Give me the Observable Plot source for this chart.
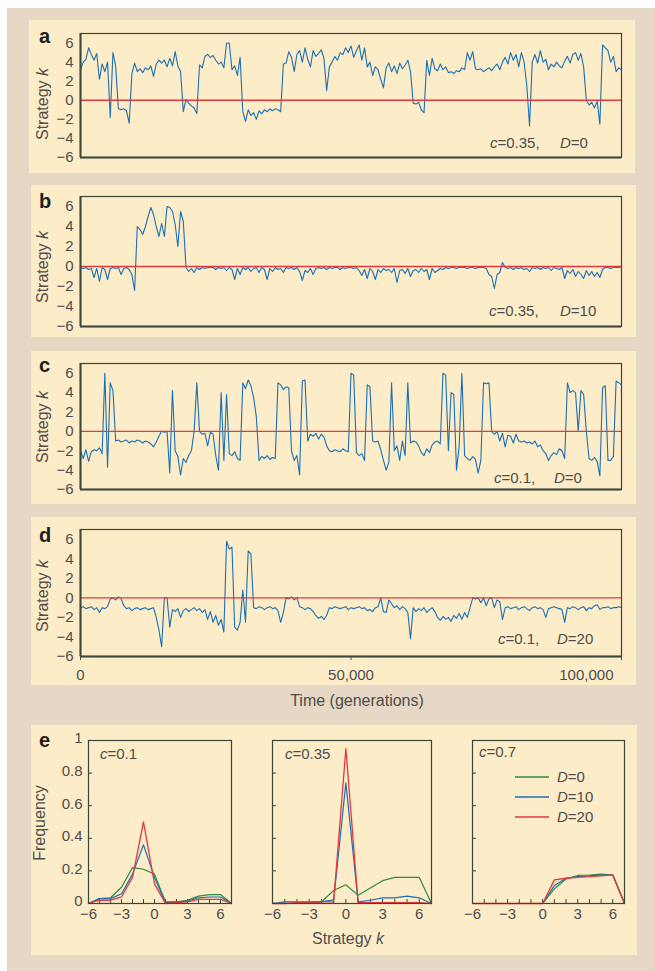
<!DOCTYPE html>
<html><head><meta charset="utf-8">
<script src="https://cdn.jsdelivr.net/npm/d3@7"></script>
<script src="https://cdn.jsdelivr.net/npm/@observablehq/plot@0.6"></script>
<style>
body{margin:0;background:#fff;}
#root{position:relative;width:655px;height:971px;overflow:hidden;font-family:"Liberation Sans",Arial,sans-serif;}
.bg{position:absolute;left:7px;top:8px;width:648px;height:963px;background:#e6d8c4;}
.panel{position:absolute;background:#fdecc8;}
#overlay{position:absolute;left:0;top:0;}
#overlay text{font-family:"Liberation Sans",Arial,sans-serif;fill:#4d4d4d;}
</style></head>
<body><div id="root"><div class="bg"></div>
<div class="panel" style="left:29px;top:20px;width:606px;height:153px"></div>
<div class="panel" style="left:31px;top:185px;width:605px;height:152px"></div>
<div class="panel" style="left:31px;top:351px;width:605px;height:153px"></div>
<div class="panel" style="left:31px;top:517px;width:605px;height:168px"></div>
<div class="panel" style="left:31px;top:725px;width:606px;height:230px"></div>
</div>
<script>
// ---------- data ----------
const T_MAX = 100000;
const kTicks = [-6, -4, -2, 0, 2, 4, 6];
const timeTicks = [0, 50000, 100000];

// strategy k sampled every 500 generations (t = 0 ... 100,000)
const seriesA = [
  3.2, 4.0, 4.3, 5.5, 4.8, 4.2, 4.9, 2.2, 3.8, 3.0,
  4.0, -1.8, 5.0, 3.6, -0.9, -1.0, -0.9, -1.1, -2.4, 2.8,
  3.9, 3.0, 3.3, 2.9, 3.4, 3.2, 3.6, 2.5, 3.8, 4.2,
  3.9, 4.2, 3.5, 4.4, 3.6, 5.1, 3.6, 3.0, -1.2, 0.1,
  -0.3, -0.6, -0.8, -1.4, 3.7, 3.4, 4.6, 4.8, 4.5, 4.7,
  4.2, 3.8, 4.0, 3.4, 6.0, 6.0, 3.2, 3.6, 2.6, 4.5,
  -1.2, -2.2, -1.0, -1.6, -1.3, -2.0, -1.1, -1.4, -1.0, -1.2,
  -0.9, -1.1, -0.9, -1.0, -1.2, 3.8, 3.9, 5.1, 4.5, 3.0,
  4.8, 5.2, 4.0, 5.5, 4.3, 3.5, 5.2, 4.6, 4.9, 5.3,
  4.4, 1.0, 3.5, 4.0, 4.6, 4.2, 5.0, 4.8, 5.5, 5.0,
  5.7, 4.5, 5.2, 5.8, 4.2, 5.5, 3.5, 4.0, 2.6, 3.5,
  3.2, 2.2, 1.3, 3.4, 3.9, 3.0, 3.6, 2.8, 3.9, 3.3,
  3.7, 4.2, 3.0, -0.3, -0.4, -0.2, -1.0, -1.3, 4.2, 2.6,
  4.4, 3.3, 3.1, 3.8, 3.2, 3.5, 2.9, 3.0, 2.8, 3.1,
  3.0, 3.4, 3.2, 5.0, 4.2, 5.1, 3.3, 3.2, 3.3, 3.0,
  3.2, 3.4, 3.1, 3.5, 3.8, 3.2, 4.0, 4.5, 3.8, 5.0,
  4.2, 4.8, 3.5, 5.0, 4.0, 1.5, -2.7, 4.0, 4.8, 3.9,
  5.2, 4.0, 4.3, 3.2, 3.8, 3.5, 4.0, 3.6, 3.4, 4.1,
  4.6, 3.9, 4.8, 5.0, 4.2, 4.9, 3.5, 0.0, -0.5, -0.2,
  -0.8, -0.1, -2.5, 5.8, 5.5, 5.2, 4.0, 4.6, 3.0, 3.4,
  3.2
];
const seriesB = [
  -0.1, -0.2, -0.1, -0.3, -0.2, -1.1, -0.2, -1.5, -0.1, -0.3,
  -1.3, -0.2, -0.1, -0.2, -0.1, -0.8, -0.2, -0.1, -0.3, -0.8,
  -2.4, 4.0, 3.7, 3.2, 4.0, 5.0, 5.9, 5.2, 4.0, 3.0,
  4.3, 3.0, 6.0, 5.9, 5.5, 4.2, 2.0, 5.5, 4.5, -0.1,
  -0.5, -0.2, -0.6, -0.1, -0.3, -0.1, -0.2, -0.1, -0.1, -0.1,
  -0.3, -0.1, -0.2, -0.1, -0.4, -0.1, -0.3, -1.3, -0.2, -0.8,
  -0.1, -0.3, -0.1, -0.5, -0.2, -0.1, -0.6, -0.1, -0.3, -1.3,
  -0.2, -0.5, -0.1, -0.3, -0.2, -0.6, -0.1, -0.2, -0.1, -0.3,
  -0.1, -0.5, -1.4, -0.4, -0.6, -0.2, -0.8, -0.2, -0.1, -0.2,
  -0.1, -0.3, -0.1, -0.2, -0.1, -0.1, -0.3, -0.1, -0.2, -0.1,
  -0.1, -0.2, -0.1, -0.4, -0.9, -0.3, -1.2, -0.2, -0.5, -1.3,
  -0.3, -0.6, -0.2, -0.4, -0.3, -0.6, -0.2, -1.6, -0.4, -0.3,
  -0.7, -0.2, -1.0, -0.4, -0.3, -0.6, -0.2, -0.5, -0.3, -1.3,
  -0.2, -0.6, -0.4, -0.2, -0.3, -0.1, -0.2, -0.1, -0.1, -0.2,
  -0.1, -0.1, -0.1, -0.2, -0.1, -0.1, -0.2, -0.1, -0.1, -0.1,
  -0.2, -0.8, -1.0, -2.2, -0.8, -0.6, 0.4, -0.1, -0.2, -0.1,
  -0.3, -0.1, -0.2, -0.1, -0.3, -0.2, -0.5, -0.1, -0.2, -0.1,
  -0.3, -0.1, -0.2, -0.1, -0.4, -0.1, -0.2, -0.3, -0.1, -1.2,
  -0.4, -0.7, -0.3, -1.0, -0.5, -0.8, -1.2, -0.4, -0.9, -0.5,
  -1.0, -0.6, -1.1, -0.3, -0.1, -0.1, -0.2, -0.1, -0.1, -0.1,
  0.0
];
const seriesC = [
  -2.0, -2.8, -1.9, -3.1, -2.1, -1.9, -2.0, -1.7, -2.3, 6.0,
  -3.7, 5.0, 4.2, -1.0, -0.9, -1.1, -1.0, -0.9, -1.2, -1.0,
  -1.1, -0.9, -1.0, -1.2, -1.0, -1.1, -1.3, -1.6, -1.1, -0.5,
  0.0, -0.1, 0.0, -4.3, 4.2, -2.0, -2.6, -4.5, -2.8, -3.2,
  -2.5, -2.0, 0.0, 5.0, 0.0, -0.3, -0.2, -1.5, -0.1, -0.3,
  -2.5, -4.0, 4.0, -3.0, 3.8, -2.3, -2.5, -2.1, -2.8, -3.0,
  5.0, 4.4, 5.3, 4.7, 3.5, 1.5, -3.0, -2.6, -2.8, -2.5,
  -2.9, -2.7, -2.8, 5.0, 4.8, 4.3, 4.6, 4.5, -2.0, -3.0,
  -2.5, -4.5, 5.2, 5.3, -1.0, -0.3, -0.5, -0.2, -0.8, -0.3,
  -0.6, -1.5, -2.0, -2.1, -1.9, -2.0, -2.1, -1.8, -2.0, -2.1,
  6.0, 5.8, -2.2, -2.5, -2.3, -3.0, 4.8, 4.6, -1.0, -1.1,
  -1.0, -1.9, -3.0, -4.0, -3.2, 5.0, -2.0, -1.5, -3.0, -1.0,
  -2.5, 5.0, -1.2, -1.0, -1.1, -1.5, -2.2, -2.5, -1.8, -2.2,
  -1.4, -1.1, -1.0, -1.3, 6.0, 5.8, -2.0, 4.0, 3.8, -4.0,
  -1.5, 6.0, -2.5, -2.8, -3.0, -2.6, -2.9, -4.3, -3.0, 5.0,
  4.9, 5.0, 0.0, -0.3, 0.0, -1.0, -0.2, -1.6, -0.4, -0.5,
  -1.2, -0.3, -1.0, -1.1, -1.0, -1.2, -1.1, -1.3, -1.0, -1.6,
  -1.4, -2.0, -2.3, -3.0, -2.5, -2.2, -2.4, -1.8, -2.0, -2.8,
  5.0, 4.0, 4.2, 4.0, 0.0, 4.2, 3.8, 0.0, -2.8, -3.0,
  -2.7, -3.1, -4.6, 4.5, 4.7, -3.0, -3.0, -2.6, 5.2, 5.0,
  4.8
];
const seriesD = [
  -1.0, -0.9, -1.1, -1.0, -0.9, -1.2, -1.0, -1.5, -1.0, -1.1,
  -0.9, -0.1, 0.0, -0.2, 0.1, -0.1, -0.8, -1.1, -1.0, -1.3,
  -1.1, -1.0, -1.2, -1.1, -1.0, -1.2, -1.1, -1.0, -2.0, -3.3,
  -5.0, 0.0, 0.0, -3.0, -1.2, -1.4, -1.1, -2.0, -1.3, -1.1,
  -1.4, -1.2, -1.0, -1.3, -1.1, -1.5, -1.2, -2.2, -1.4, -2.5,
  -1.8, -2.8, -2.2, -3.5, 5.8, 5.0, 5.2, -3.0, -3.3, -2.5,
  0.8, -2.5, 4.8, 4.5, -1.0, -1.1, -0.9, -1.0, -1.2, -1.0,
  -0.9, -1.1, -1.0, -1.3, -2.5, -1.5, 0.0, -0.1, 0.1, -0.2,
  0.0, -0.9, -1.0, -1.2, -1.0, -1.1, -1.4, -1.8, -2.1, -1.9,
  -2.2, -1.8, -1.0, -1.1, -0.9, -1.0, -1.1, -1.0, -0.9, -1.2,
  -1.0, -1.1, -1.0, -0.9, -1.1, -1.0, -1.3, -1.2, -1.4, -1.0,
  -0.9, 0.0, -1.4, -1.5, -0.2, -0.6, -1.0, -0.8, -1.2, -0.9,
  -1.1, -1.5, -4.2, -1.0, -1.4, -1.1, -1.3, -1.0, -1.5, -1.2,
  -1.0, -1.4, -2.0, -2.3, -1.9, -2.2, -2.0, -2.4, -1.8, -2.1,
  -1.6, -2.2, -1.5, -2.0, -1.0, 0.0, -0.1, 0.0, -0.5, 0.0,
  -0.8, -0.1, 0.0, -1.0, -0.2, -0.4, -2.2, -1.0, -0.9, -1.1,
  -1.0, -0.9, -1.2, -1.0, -0.9, -1.1, -1.3, -1.0, -0.9, -1.1,
  -1.0, -1.2, -2.0, -1.1, -1.0, -0.9, -1.0, -1.1, -1.2, -2.5,
  -1.0, -1.1, -0.9, -1.0, -1.2, -1.0, -0.9, -1.3, -1.0, -1.1,
  -0.8, -0.7, -1.2, -1.0, -1.0, -0.9, -1.1, -1.0, -1.0, -0.9,
  -1.0
];

// panel e: frequency of each strategy k
const strategyK = [-6, -5, -4, -3, -2, -1, 0, 1, 2, 3, 4, 5, 6, 7];
const strategyLabelTicks = [-6, -3, 0, 3, 6];
const freqTicks = [0, 0.2, 0.4, 0.6, 0.8, 1];
const freqC01_D0  = [0, 0.03, 0.035, 0.10, 0.22, 0.21, 0.18, 0.01, 0.01, 0.02, 0.045, 0.055, 0.055, 0];
const freqC01_D10 = [0, 0.03, 0.03, 0.06, 0.18, 0.36, 0.16, 0.005, 0.01, 0.015, 0.035, 0.04, 0.04, 0];
const freqC01_D20 = [0, 0.02, 0.02, 0.04, 0.16, 0.50, 0.12, 0, 0.005, 0.01, 0.025, 0.025, 0.025, 0];
const freqC035_D0  = [0, 0, 0, 0.005, 0.01, 0.08, 0.115, 0.05, 0.095, 0.14, 0.16, 0.16, 0.16, 0];
const freqC035_D10 = [0, 0.01, 0.01, 0.01, 0.01, 0.022, 0.74, 0.01, 0.02, 0.035, 0.035, 0.045, 0.035, 0];
const freqC035_D20 = [0, 0, 0.005, 0.005, 0.01, 0.01, 0.95, 0.005, 0.005, 0.005, 0.005, 0.005, 0.005, 0];
const freqC07_D0  = [0, 0, 0, 0, 0, 0, 0, 0.09, 0.15, 0.172, 0.175, 0.18, 0.175, 0];
const freqC07_D10 = [0, 0, 0, 0, 0, 0, 0, 0.11, 0.155, 0.165, 0.17, 0.175, 0.175, 0];
const freqC07_D20 = [0, 0, 0, 0, 0, 0, 0, 0.145, 0.155, 0.16, 0.165, 0.17, 0.175, 0];

// ---------- style ----------
const BLUE = "#1b6fb4", RED = "#e2393f", GREEN = "#2e8b3a", FRAME = "#39473d";
const FONT = "'Liberation Sans', Arial, sans-serif";
const fmtMinus = d => (d < 0 ? "\u2212" + Math.abs(d) : String(d));
const fmtFreq = d => (d === 0 ? "0" : d === 1 ? "1" : d.toFixed(1));
const root = document.getElementById("root");

function place(svg, left, top) {
  svg.style.position = "absolute";
  svg.style.left = left + "px";
  svg.style.top = top + "px";
  root.appendChild(svg);
}

function tsPlot(vals, frameTop, frameBottom, withX) {
  const mt = 10, mb = withX ? 40 : 10;
  const data = vals.map((k, i) => ({t: (i * T_MAX) / (vals.length - 1), k}));
  const marks = [
    Plot.axisY(kTicks, {tickSize: 0, tickPadding: 7, tickFormat: fmtMinus, label: null}),
    Plot.lineY(data, {x: "t", y: "k", stroke: BLUE, strokeWidth: 1.1}),
    Plot.ruleY([0], {stroke: RED, strokeWidth: 1.4}),
    Plot.frame({stroke: FRAME, strokeWidth: 1.2}),
    Plot.ruleX([0], {stroke: FRAME, strokeWidth: 2}),
    Plot.ruleY([-6], {stroke: FRAME, strokeWidth: 2})
  ];
  if (withX) {
    marks.push(Plot.axisX(timeTicks, {tickSize: 4, tickPadding: 9, label: null,
      tickFormat: d => (d === T_MAX ? "" : d3.format(",")(d))}));
    marks.push(Plot.axisX([T_MAX], {tickSize: 0, tickPadding: 13, label: null,
      tickFormat: d3.format(","), textAnchor: "end", dx: -8}));
  }
  const svg = Plot.plot({
    width: 655, height: frameBottom - frameTop + mt + mb,
    marginLeft: 80, marginRight: 34, marginTop: mt, marginBottom: mb,
    style: {background: "transparent", fontFamily: FONT, fontSize: "15px", color: "#4d4d4d", overflow: "visible"},
    x: withX ? {domain: [0, T_MAX]} : {domain: [0, T_MAX], axis: null},
    y: {domain: [-6, 7]},
    marks
  });
  place(svg, 0, frameTop - mt);
}

tsPlot(seriesA, 33, 157, false);
tsPlot(seriesB, 196, 326, false);
tsPlot(seriesC, 363, 489, false);
tsPlot(seriesD, 529, 656, true);

function histPlot(d0, d10, d20, frameLeft, frameRight, showY) {
  const ml = 40, mr = 10, mt = 10, mb = 26;
  const fTop = 740, fBottom = 903;
  const fw = frameRight - frameLeft, fh = fBottom - fTop;
  const rows = arr => arr.map((f, i) => ({k: strategyK[i], f}));
  const marks = [
    Plot.ruleY(freqTicks.slice(1, -1), {stroke: FRAME, insetRight: fw - 4}),
    Plot.ruleX(strategyK.slice(1, -1), {stroke: FRAME, insetTop: fh - 4}),
    Plot.line(rows(d0), {x: "k", y: "f", stroke: GREEN, strokeWidth: 1.2}),
    Plot.line(rows(d10), {x: "k", y: "f", stroke: BLUE, strokeWidth: 1.2}),
    Plot.line(rows(d20), {x: "k", y: "f", stroke: RED, strokeWidth: 1.3}),
    Plot.frame({stroke: FRAME, strokeWidth: 1.2}),
    Plot.axisX(strategyLabelTicks, {tickSize: 0, tickPadding: 5, tickFormat: fmtMinus, label: null})
  ];
  if (showY) marks.push(Plot.axisY(freqTicks, {tickSize: 0, tickPadding: 6, dy: -2, tickFormat: fmtFreq, label: null}));
  const svg = Plot.plot({
    width: fw + ml + mr, height: fh + mt + mb,
    marginLeft: ml, marginRight: mr, marginTop: mt, marginBottom: mb,
    style: {background: "transparent", fontFamily: FONT, fontSize: "15px", color: "#4d4d4d", overflow: "visible"},
    x: {domain: [-6, 7]},
    y: showY ? {domain: [0, 1]} : {domain: [0, 1], axis: null},
    marks
  });
  place(svg, frameLeft - ml, fTop - mt);
}

histPlot(freqC01_D0, freqC01_D10, freqC01_D20, 88, 231, true);
histPlot(freqC035_D0, freqC035_D10, freqC035_D20, 272, 431, false);
histPlot(freqC07_D0, freqC07_D10, freqC07_D20, 472, 624, false);

// ---------- annotations / legend ----------
const NS = "http://www.w3.org/2000/svg";
const ov = document.createElementNS(NS, "svg");
ov.setAttribute("id", "overlay");
ov.setAttribute("width", 655);
ov.setAttribute("height", 971);
ov.innerHTML = `
<g font-weight="bold" font-size="20">
  <text x="39" y="43" style="fill:#1e1e1e">a</text>
  <text x="39" y="208" style="fill:#1e1e1e">b</text>
  <text x="39" y="372" style="fill:#1e1e1e">c</text>
  <text x="39" y="542" style="fill:#1e1e1e">d</text>
  <text x="39" y="747" style="fill:#1e1e1e">e</text>
</g>
<g font-size="16" text-anchor="middle">
  <text transform="translate(48,104) rotate(-90)">Strategy <tspan font-style="italic">k</tspan></text>
  <text transform="translate(48,267) rotate(-90)">Strategy <tspan font-style="italic">k</tspan></text>
  <text transform="translate(48,427) rotate(-90)">Strategy <tspan font-style="italic">k</tspan></text>
  <text transform="translate(48,596) rotate(-90)">Strategy <tspan font-style="italic">k</tspan></text>
  <text transform="translate(45,823) rotate(-90)">Frequency</text>
  <text x="357" y="706">Time (generations)</text>
  <text x="348" y="944">Strategy <tspan font-style="italic">k</tspan></text>
</g>
<g font-size="15">
  <text x="490" y="148"><tspan font-style="italic">c</tspan>=0.35,</text>
  <text x="560" y="148"><tspan font-style="italic">D</tspan>=0</text>
  <text x="489" y="316"><tspan font-style="italic">c</tspan>=0.35,</text>
  <text x="560" y="316"><tspan font-style="italic">D</tspan>=10</text>
  <text x="494" y="483"><tspan font-style="italic">c</tspan>=0.1,</text>
  <text x="554" y="483"><tspan font-style="italic">D</tspan>=0</text>
  <text x="498" y="644"><tspan font-style="italic">c</tspan>=0.1,</text>
  <text x="557" y="644"><tspan font-style="italic">D</tspan>=20</text>
  <text x="100" y="759"><tspan font-style="italic">c</tspan>=0.1</text>
  <text x="285" y="759"><tspan font-style="italic">c</tspan>=0.35</text>
  <text x="479" y="757"><tspan font-style="italic">c</tspan>=0.7</text>
  <line x1="515" x2="549" y1="777" y2="777" stroke="${GREEN}" stroke-width="1.3"/>
  <line x1="515" x2="549" y1="797" y2="797" stroke="${BLUE}" stroke-width="1.3"/>
  <line x1="515" x2="549" y1="817" y2="817" stroke="${RED}" stroke-width="1.3"/>
  <text x="557" y="782"><tspan font-style="italic">D</tspan>=0</text>
  <text x="557" y="802"><tspan font-style="italic">D</tspan>=10</text>
  <text x="557" y="822"><tspan font-style="italic">D</tspan>=20</text>
</g>`;
root.appendChild(ov);
</script>
</body></html>
